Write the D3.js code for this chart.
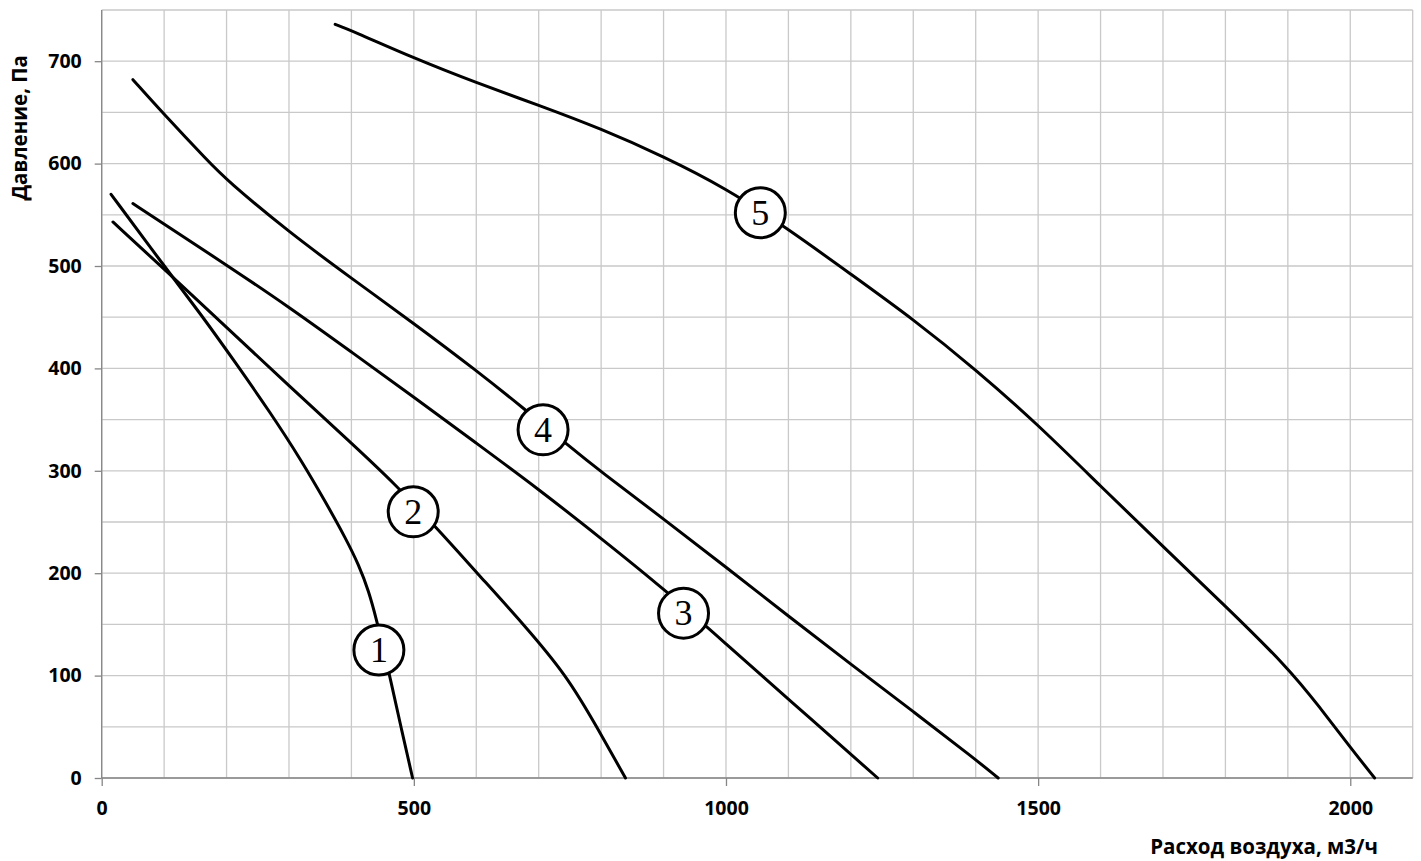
<!DOCTYPE html>
<html>
<head>
<meta charset="utf-8">
<script src="https://cdn.jsdelivr.net/npm/d3@7"></script>
<style>
  body{ margin:0; padding:0; background:#fff; }
  .tick text{ font-family: "Open Sans", Arial, sans-serif; font-weight:700; font-size:19.5px; fill:#000; }
  .axisTitle{ font-family: "Open Sans", Arial, sans-serif; font-weight:700; font-size:20.5px; fill:#000; }
  .curveLabel{ font-family: "Liberation Serif", "Times New Roman", serif; font-size:36px; fill:#000; }
</style>
</head>
<body>
<div id="chart"></div>
<script>
// air flow (m3/h) / pressure (Pa)
const curve1 = [[15,570],[100,500],[160,452],[215,405],[270,357],[320,310],[360,268],[390,235],[412,208],[428,182],[440,155],[452,125],[463,95],[480,48],[498,0]];
const curve2 = [[18,543],[100,497],[200,440],[300,383],[400,327],[470,287],[540,242],[600,201],[676,150],[745,100],[793,50],[839,0]];
const curve3 = [[50,561],[100,541],[200,501],[300,460],[400,416],[500,372],[600,327],[700,282],[800,234],[900,185],[1000,131],[1100,77],[1243,0]];
const curve4 = [[50,682],[100,648],[171,602],[200,584],[300,533],[400,488],[500,444],[600,398],[676,361],[745,326],[800,299],[900,253],[1000,206],[1100,158],[1200,111],[1300,65],[1400,18],[1436,0]];
const curve5 = [[374,736],[400,730],[500,703],[600,679],[700,657],[800,634],[900,607],[1000,576],[1100,536],[1200,492],[1300,448],[1400,399],[1500,345],[1600,285],[1700,226],[1800,168],[1900,108],[1950,70],[2000,30],[2039,0]];

const labelNames = ["1","2","3","4","5"];
const labelFlow = [444,499,932,707,1055];
const labelPressure = [125,260,161,340,552];

const xTicks = [0,500,1000,1500,2000];
const yTicks = [0,100,200,300,400,500,600,700];
const xGrid = d3.range(0,2101,100);
const yGrid = d3.range(0,751,50);

var width = 1421;
var height = 861;
var plotLeft = 101.7, plotRight = 1412.7, plotTop = 10, plotBottom = 778;

var svg = d3.select("#chart")
    .append("svg")
    .attr("width", width)
    .attr("height", height);

var x = d3.scaleLinear().domain([0,2100]).range([plotLeft,plotRight]);
var y = d3.scaleLinear().domain([0,750]).range([plotBottom,plotTop]);

// grid
svg.append("g").selectAll("line")
    .data(xGrid)
    .enter().append("line")
    .attr("x1", d => x(d)).attr("x2", d => x(d))
    .attr("y1", plotTop).attr("y2", plotBottom)
    .attr("stroke", "#c9c9c9").attr("stroke-width", 1.3);

svg.append("g").selectAll("line")
    .data(yGrid)
    .enter().append("line")
    .attr("x1", plotLeft).attr("x2", plotRight)
    .attr("y1", d => y(d)).attr("y2", d => y(d))
    .attr("stroke", "#c9c9c9").attr("stroke-width", 1.3);

// axes
var xAxis = svg.append("g")
    .attr("transform", "translate(0," + plotBottom + ")")
    .call(d3.axisBottom(x).tickValues(xTicks).tickSize(8).tickPadding(15).tickFormat(d3.format("d")));
var yAxis = svg.append("g")
    .attr("transform", "translate(" + plotLeft + ",0)")
    .call(d3.axisLeft(y).tickValues(yTicks).tickSize(7).tickPadding(13).tickFormat(d3.format("d")));

[xAxis, yAxis].forEach(function(a){
  a.select(".domain").remove();
  a.selectAll(".tick line").attr("stroke", "#868686").attr("stroke-width", 1.3);
});

svg.append("line")
    .attr("x1", plotLeft).attr("x2", plotRight)
    .attr("y1", plotBottom).attr("y2", plotBottom)
    .attr("stroke", "#868686").attr("stroke-width", 1.3);
svg.append("line")
    .attr("x1", plotLeft).attr("x2", plotLeft)
    .attr("y1", plotTop).attr("y2", plotBottom)
    .attr("stroke", "#868686").attr("stroke-width", 1.3);

// titles
svg.append("text")
    .attr("class", "axisTitle")
    .attr("x", 1378).attr("y", 854)
    .attr("text-anchor", "end")
    .text("Расход воздуха, м3/ч");

svg.append("text")
    .attr("class", "axisTitle")
    .attr("transform", "translate(27,55) rotate(-90)")
    .attr("text-anchor", "end")
    .text("Давление, Па");

// curves
var line = d3.line()
    .x(d => x(d[0]))
    .y(d => y(d[1]))
    .curve(d3.curveBasis);

svg.append("g").selectAll("path")
    .data([curve1, curve2, curve3, curve4, curve5])
    .enter().append("path")
    .attr("d", line)
    .attr("fill", "none")
    .attr("stroke", "#000")
    .attr("stroke-width", 3)
    .attr("stroke-linecap", "round");

// numbered circles
var labels = svg.append("g").selectAll("g")
    .data(labelNames)
    .enter().append("g")
    .attr("transform", (d,i) => "translate(" + x(labelFlow[i]) + "," + y(labelPressure[i]) + ")");

labels.append("circle")
    .attr("r", 25)
    .attr("fill", "#fff")
    .attr("stroke", "#000")
    .attr("stroke-width", 3);

labels.append("text")
    .attr("class", "curveLabel")
    .attr("text-anchor", "middle")
    .attr("dy", "0.34em")
    .text(d => d);
</script>
</body>
</html>
